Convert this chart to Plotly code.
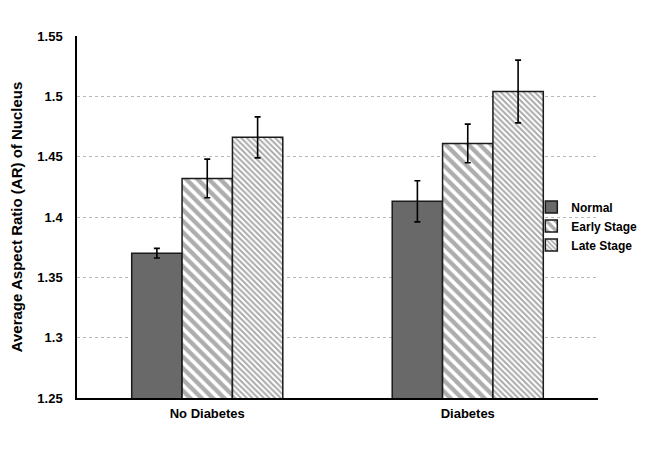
import plotly.graph_objects as go

# Data
groups = ["No Diabetes", "Diabetes"]
stages = ["Normal", "Early Stage", "Late Stage"]
normal_vals = [1.370, 1.413]
early_vals = [1.432, 1.461]
late_vals = [1.466, 1.504]
normal_err = [0.004, 0.017]
early_err = [0.016, 0.016]
late_err = [0.017, 0.026]

FONT = "Liberation Sans, Arial, sans-serif"

# Bar styling per stage
styles = [
    dict(color="#696969", pattern=dict(shape="")),
    dict(color="white", pattern=dict(shape="\\", fgcolor="#5c5c5c", bgcolor="white",
                                      size=8, solidity=0.55, fillmode="overlay")),
    dict(color="white", pattern=dict(shape="\\", fgcolor="#555555", bgcolor="white",
                                      size=4, solidity=0.5, fillmode="overlay")),
]

values = [normal_vals, early_vals, late_vals]
errors = [normal_err, early_err, late_err]

fig = go.Figure()
for name, vals, errs, st in zip(stages, values, errors, styles):
    fig.add_trace(go.Bar(
        name=name,
        x=groups,
        y=vals,
        base=0,
        marker=dict(color=st["color"], pattern=st["pattern"],
                    line=dict(color="#1a1a1a", width=1.5)),
        error_y=dict(type="data", array=errs, visible=True,
                     color="black", thickness=1.6, width=3),
    ))

# page body has an 8px margin, so the figure is a bit smaller than the window
fig.update_layout(
    width=637,
    height=447,
    barmode="group",
    bargap=0.42,
    bargroupgap=0,
    plot_bgcolor="white",
    paper_bgcolor="white",
    margin=dict(l=69, r=47, t=28, b=57, autoexpand=False),
    font=dict(family=FONT, size=13, color="black"),
    legend=dict(
        x=0.872, y=0.568, xanchor="left", yanchor="top",
        bgcolor="rgba(0,0,0,0)",
        font=dict(family=FONT, size=12, weight="bold", color="black"),
        itemwidth=30,
        tracegroupgap=0,
    ),
    showlegend=True,
)

fig.update_xaxes(
    showline=True, linecolor="black", linewidth=1.5,
    ticks="", showgrid=False, ticklabelstandoff=3,
    tickfont=dict(family=FONT, size=13, weight="bold"),
)

fig.update_yaxes(
    range=[1.25, 1.55],
    dtick=0.05,
    showline=True, linecolor="black", linewidth=1.5,
    showgrid=True, gridcolor="#b8b8b8", gridwidth=1, griddash="dot",
    zeroline=False, ticks="", ticklabelstandoff=10,
    tickfont=dict(family=FONT, size=13, weight="bold"),
    title=dict(text="Average Aspect Ratio (AR) of Nucleus",
               font=dict(family=FONT, size=15, weight="bold"), standoff=12),
)

fig.write_html("out.html")
